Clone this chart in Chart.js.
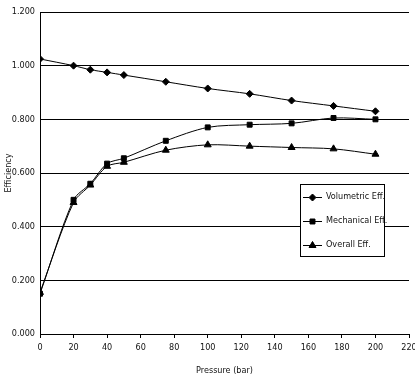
<!DOCTYPE html>
<html>
<head>
<meta charset="utf-8">
<script src="https://cdn.jsdelivr.net/npm/chart.js@4.4.1/dist/chart.umd.min.js"></script>
<style>
  body { margin: 0; background: #fff; }
  #wrap { width: 415px; height: 378px; }
</style>
</head>
<body>
<div id="wrap"><canvas id="myChart" width="415" height="378"></canvas></div>
<script>
// data
const pressure = [0, 20, 30, 40, 50, 75, 100, 125, 150, 175, 200];
const volumetric = [1.025, 1.0, 0.985, 0.975, 0.965, 0.94, 0.915, 0.895, 0.87, 0.85, 0.83];
const mechanical = [0.15, 0.5, 0.56, 0.635, 0.655, 0.72, 0.77, 0.78, 0.785, 0.805, 0.8];
const overall = [0.155, 0.49, 0.555, 0.625, 0.64, 0.685, 0.705, 0.7, 0.695, 0.69, 0.67];
const seriesNames = ['Volumetric Eff.', 'Mechanical Eff.', 'Overall Eff.'];
const markers = ['rectRot', 'rect', 'triangle'];

const FONT = "'DejaVu Sans Condensed', 'Liberation Sans Narrow', 'Liberation Sans', sans-serif";

function toPoints(ys) {
    return pressure.map((p, i) => ({ x: p, y: ys[i] }));
}

function makeSet(label, ys, marker, r) {
    return {
        label: label,
        data: toPoints(ys),
        borderColor: '#000',
        backgroundColor: '#000',
        borderWidth: 1,
        pointStyle: marker,
        pointRadius: r,
        pointBorderWidth: 1,
        tension: 0.3
    };
}

// legend box drawn inside the plot, like the original
const boxLegend = {
    id: 'boxLegend',
    afterDraw(chart) {
        const ctx = chart.ctx;
        const a = chart.chartArea;
        const left = a.right - 109, top = a.top + 172, w = 84, h = 72;
        ctx.save();
        ctx.fillStyle = '#fff';
        ctx.fillRect(left, top, w, h);
        ctx.strokeStyle = '#000';
        ctx.lineWidth = 1;
        ctx.strokeRect(left + 0.5, top + 0.5, w, h);
        ctx.font = '9px ' + FONT;
        ctx.textBaseline = 'middle';
        chart.data.datasets.forEach((ds, i) => {
            const y = top + 13 + i * 24;
            ctx.beginPath();
            ctx.moveTo(left + 3, y + 0.5);
            ctx.lineTo(left + 22, y + 0.5);
            ctx.stroke();
            Chart.helpers.drawPoint(ctx, { pointStyle: ds.pointStyle, radius: ds.pointRadius, borderWidth: 1 }, left + 12.5, y + 0.5);
            ctx.fillStyle = '#000';
            ctx.fill();
            ctx.fillStyle = '#111';
            ctx.fillText(ds.label, left + 26, y);
        });
        ctx.restore();
    }
};

const config = {
    type: 'line',
    data: {
        datasets: [
            makeSet(seriesNames[0], volumetric, markers[0], 3.5),
            makeSet(seriesNames[1], mechanical, markers[1], 3.5),
            makeSet(seriesNames[2], overall, markers[2], 4)
        ]
    },
    options: {
        responsive: false,
        animation: false,
        layout: { padding: { top: 12, left: 3, right: 6, bottom: 0 } },
        plugins: {
            legend: { display: false },
            tooltip: { enabled: false }
        },
        scales: {
            x: {
                type: 'linear',
                min: 0,
                max: 220,
                ticks: {
                    stepSize: 20,
                    color: '#111',
                    font: { family: FONT, size: 9 },
                    maxRotation: 0,
                    padding: 4
                },
                grid: { drawOnChartArea: false, drawTicks: true, tickLength: 4, color: '#000' },
                border: { color: '#000', width: 1 },
                title: {
                    display: true,
                    text: 'Pressure (bar)',
                    color: '#111',
                    font: { family: FONT, size: 9 },
                    padding: { top: 3, bottom: 2 }
                },
                afterFit(scale) {
                    scale.paddingLeft = 0;
                    scale.paddingRight = 0;
                    scale.height = 44;
                }
            },
            y: {
                min: 0,
                max: 1.2,
                ticks: {
                    stepSize: 0.2,
                    color: '#111',
                    font: { family: FONT, size: 9 },
                    padding: 5,
                    callback: v => v.toFixed(3)
                },
                grid: { color: '#000', drawTicks: false, lineWidth: 1 },
                border: { color: '#000', width: 1 },
                title: {
                    display: true,
                    text: 'Efficiency',
                    color: '#111',
                    font: { family: FONT, size: 9 },
                    padding: 0
                },
                afterFit(scale) {
                    scale.width = 37;
                    scale.paddingTop = 0;
                    scale.paddingBottom = 0;
                }
            }
        }
    },
    plugins: [boxLegend]
};

var myChart = new Chart(document.getElementById('myChart'), config);
</script>
</body>
</html>
